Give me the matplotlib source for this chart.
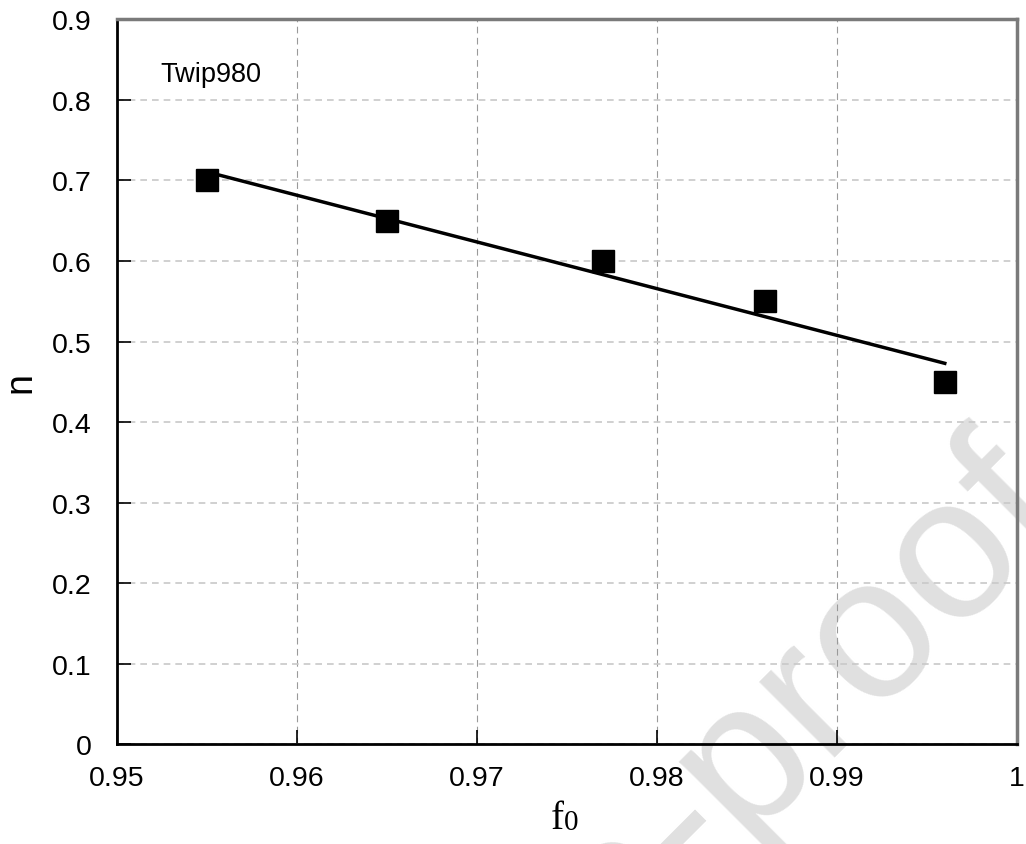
import numpy as np
import matplotlib.pyplot as plt

plt.rcParams['font.family'] = ['Liberation Sans', 'DejaVu Sans']

# void fraction vs hardening exponent
f0 = [0.955, 0.965, 0.977, 0.986, 0.996]
n = [0.70, 0.65, 0.60, 0.55, 0.45]
xticks = [0.95, 0.96, 0.97, 0.98, 0.99, 1.0]
xtick_labels = ["0.95", "0.96", "0.97", "0.98", "0.99", "1"]
yticks = [0, 0.1, 0.2, 0.3, 0.4, 0.5, 0.6, 0.7, 0.8, 0.9]
ytick_labels = ["0", "0.1", "0.2", "0.3", "0.4", "0.5", "0.6", "0.7", "0.8", "0.9"]

fig = plt.figure(figsize=(10.26, 8.45), dpi=100)
ax = fig.add_axes([0.114, 0.118, 0.877, 0.858])
ax.patch.set_alpha(0)

# linear fit through the points
k, b = np.polyfit(f0, n, 1)
xf = np.array([f0[0], f0[-1]])
ax.plot(xf, k * xf + b, color="black", lw=2.5, zorder=3)
ax.plot(f0, n, "s", color="black", ms=16, zorder=4)

ax.set_xlim(0.95, 1.0)
ax.set_ylim(0, 0.9)
ax.set_xticks(xticks)
ax.set_xticklabels(xtick_labels)
ax.set_yticks(yticks)
ax.set_yticklabels(ytick_labels)
ax.tick_params(axis="both", direction="in", length=10, width=1.2, labelsize=20.5)
ax.tick_params(axis="x", pad=15)
ax.tick_params(axis="y", pad=18)

# grid: light dashes horizontally, finer darker dashes vertically
ax.yaxis.grid(True, color="#c8c8c8", lw=1.2, linestyle=(0, (4, 3)))
ax.xaxis.grid(True, color="#9a9a9a", lw=0.8, linestyle=(0, (6, 4)))
ax.set_axisbelow(True)

for s in ["left", "bottom"]:
    ax.spines[s].set_color("black")
    ax.spines[s].set_linewidth(2)
for s in ["top", "right"]:
    ax.spines[s].set_color("#7a7a7a")
    ax.spines[s].set_linewidth(2.5)

ax.text(0.048, 0.924, "Twip980", transform=ax.transAxes, fontsize=19.5,
        va="center", ha="left")

ax.set_ylabel("n", fontsize=27, labelpad=10)

# x label: "f" with a smaller "0" on the same baseline
ftxt = fig.text(0.543, 0.008, "f", fontsize=28, family="Liberation Serif",
                ha="center", va="bottom")
ax.annotate("0", xy=(1, 0), xycoords=ftxt, xytext=(0, 1.5),
            textcoords="offset points", fontsize=21,
            family="Liberation Serif", ha="left", va="bottom",
            annotation_clip=False)

# watermark
fig.text(1.046, 0.385, "Journal Pre-proof", fontsize=146,
         color="#e0e0e0", rotation=45, rotation_mode="anchor",
         ha="right", va="baseline", zorder=-1)

fig.savefig("out.png", dpi=100)
